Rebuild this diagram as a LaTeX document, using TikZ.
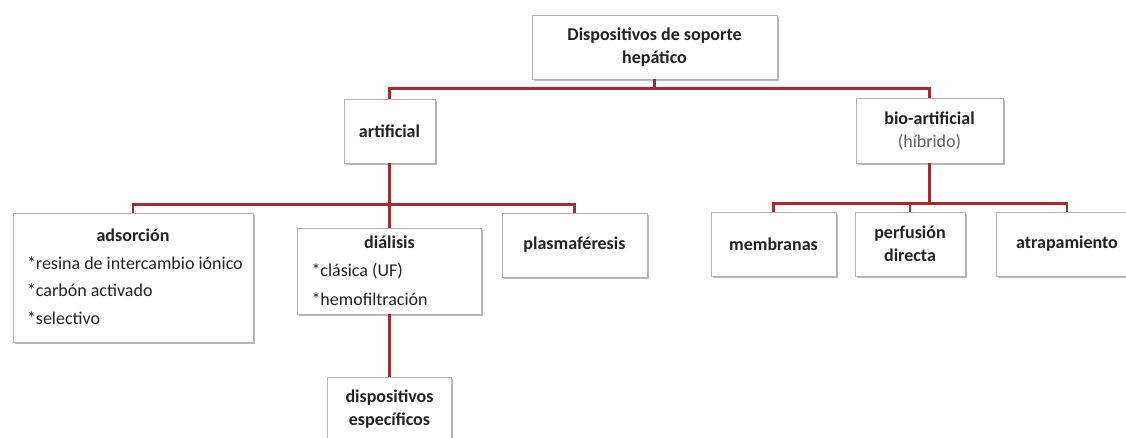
\documentclass[tikz,border=0pt]{standalone}
\usepackage{fontspec}
\setmainfont{Carlito}
\usetikzlibrary{shadows}
\definecolor{linkred}{RGB}{163,44,50}
\definecolor{txtgray}{RGB}{34,34,34}
\setlength\tabcolsep{0pt}
\begin{document}
\begin{tikzpicture}[x=1pt,y=-1pt,
	box/.style={draw=gray!60,line width=0.6pt,fill=white,drop shadow={shadow xshift=1.5pt,shadow yshift=-2pt,fill=gray!70,opacity=0.8},inner sep=0pt,align=center,text=txtgray,font=\fontsize{18}{24}\selectfont},
	head/.style={font=\fontsize{18}{23}\selectfont\bfseries},
	link/.style={draw=linkred,line width=2.6pt}]
	\useasboundingbox (0,0) rectangle (1126,437);
	\node[box,head,minimum width=245,minimum height=64] (top) at (654.5,47) {Dispositivos de soporte\\hepático};
	\node[box,head,minimum width=91,minimum height=64] (art) at (389.5,131) {artificial};
	\node[box,head,minimum width=147,minimum height=65] (bio) at (929.5,130.5) {bio-artificial\\{\mdseries\color{black!62}(híbrido)}};
	\node[box,minimum width=240,minimum height=129] (ads) at (133,277.5) {\renewcommand\arraystretch{1.15}\begin{tabular}{@{\hspace{14pt}}p{226pt}@{}}\multicolumn{1}{@{}c@{}}{\textbf{adsorción}}\\{*}resina de intercambio iónico\\{*}carbón activado\\{*}selectivo\end{tabular}};
	\node[box,minimum width=184,minimum height=86] (dia) at (389.5,271) {\renewcommand\arraystretch{1.19}\begin{tabular}{@{\hspace{14pt}}p{170pt}@{}}\multicolumn{1}{@{}c@{}}{\textbf{diálisis}}\\{*}clásica (UF)\\{*}hemofiltración\end{tabular}};
	\node[box,head,minimum width=145,minimum height=64] (plas) at (574.5,245) {plasmaféresis};
	\node[box,head,minimum width=124,minimum height=64] (disp) at (389.5,409) {dispositivos\\específicos};
	\node[box,head,minimum width=125,minimum height=64] (memb) at (773.5,244) {membranas};
	\node[box,head,minimum width=110,minimum height=64] (perf) at (910,244) {perfusión\\directa};
	\node[box,head,minimum width=142,minimum height=64] (atrap) at (1067,244) {atrapamiento};
	\draw[link] (top.south) -- ++(0,9) coordinate (tbus) -| (art.north);
	\draw[link] (tbus) -| (bio.north);
	\draw[link] (art.south) -- ++(0,41) coordinate (abus) -| (ads.north);
	\draw[link] (abus) -| (plas.north);
	\draw[link] (abus) -- (dia.north);
	\draw[link] (dia) -- (disp);
	\draw[link] (bio.south) -- ++(0,40) coordinate (bbus) -| (memb.north);
	\foreach \kid in {perf,atrap}
	\draw[link] (bbus) -| (\kid.north);
\end{tikzpicture}
\end{document}
